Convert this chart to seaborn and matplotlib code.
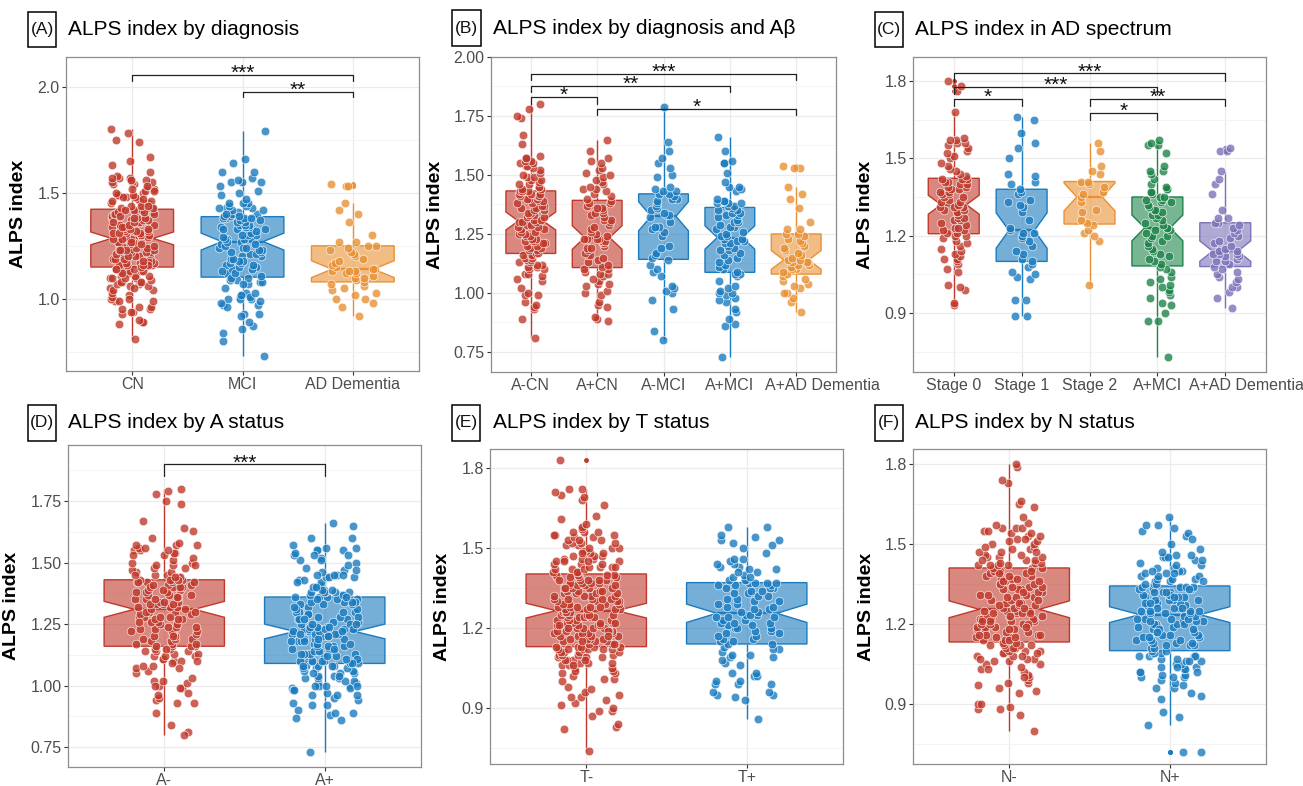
import numpy as np
import pandas as pd
import matplotlib
matplotlib.use("Agg")
import matplotlib.pyplot as plt
from matplotlib.patches import Rectangle
import matplotlib.colors as mcolors
import matplotlib.transforms as mtransforms
import seaborn as sns

# ---------------- data ----------------
a_neg_cn = [0.81, 0.89, 0.93, 0.94, 0.95, 0.96, 0.99, 0.99, 1.00, 1.02, 1.05, 1.06, 1.07, 1.08, 1.08,
            1.10, 1.10, 1.11, 1.11, 1.12, 1.12, 1.13, 1.13, 1.14, 1.14, 1.15, 1.15, 1.16, 1.16, 1.16,
            1.17, 1.17, 1.18, 1.18, 1.19, 1.19, 1.20, 1.20, 1.21, 1.21, 1.22, 1.22, 1.22, 1.23, 1.23,
            1.24, 1.24, 1.25, 1.25, 1.26, 1.26, 1.27, 1.27, 1.28, 1.28, 1.29, 1.29, 1.30, 1.30, 1.30,
            1.31, 1.31, 1.32, 1.32, 1.33, 1.33, 1.34, 1.34, 1.35, 1.35, 1.36, 1.36, 1.37, 1.37, 1.38,
            1.38, 1.39, 1.39, 1.40, 1.40, 1.40, 1.41, 1.41, 1.41, 1.42, 1.42, 1.42, 1.43, 1.43, 1.43,
            1.44, 1.44, 1.45, 1.45, 1.46, 1.46, 1.47, 1.48, 1.48, 1.49, 1.49, 1.50, 1.51, 1.52, 1.53,
            1.54, 1.54, 1.55, 1.55, 1.56, 1.56, 1.57, 1.57, 1.58, 1.63, 1.67, 1.74, 1.75, 1.78, 1.80]
a_pos_cn = [0.88, 0.89, 0.90, 0.94, 0.95, 0.96, 0.99, 1.00, 1.01, 1.03, 1.04, 1.04, 1.05, 1.06, 1.07,
            1.08, 1.08, 1.09, 1.10, 1.10,
            1.11, 1.12, 1.13, 1.14, 1.15, 1.16, 1.16, 1.17, 1.18, 1.19, 1.19, 1.20, 1.21, 1.21, 1.22,
            1.22, 1.23, 1.23, 1.23, 1.23,
            1.24, 1.25, 1.26, 1.27, 1.28, 1.29, 1.30, 1.31, 1.31, 1.32, 1.33, 1.34, 1.34, 1.35, 1.36,
            1.36, 1.37, 1.38, 1.38, 1.39,
            1.40, 1.41, 1.42, 1.43, 1.44, 1.44, 1.45, 1.46, 1.47, 1.48, 1.49, 1.50, 1.51, 1.52, 1.53,
            1.55, 1.56, 1.57, 1.60, 1.65]
a_neg_mci = [0.80, 0.84, 0.93, 0.97, 1.00, 1.01, 1.02, 1.03, 1.07, 1.09, 1.10, 1.12,
             1.14, 1.15, 1.16, 1.17, 1.19, 1.20, 1.24, 1.26, 1.27, 1.28, 1.28, 1.30, 1.32,
             1.33, 1.33, 1.34, 1.35, 1.36, 1.37, 1.38, 1.39, 1.40, 1.40, 1.41, 1.42, 1.42,
             1.43, 1.43, 1.44, 1.45, 1.49, 1.50, 1.53, 1.55, 1.57, 1.60, 1.64, 1.79]
a_pos_mci = [0.73, 0.86, 0.87, 0.89, 0.92, 0.93, 0.96, 0.97, 0.98, 0.99, 1.00, 1.00, 1.01, 1.02, 1.03,
             1.05, 1.07, 1.08, 1.08,
             1.09, 1.10, 1.11, 1.12, 1.13, 1.14, 1.15, 1.16, 1.17, 1.18, 1.18, 1.19, 1.20, 1.21, 1.21,
             1.22, 1.22, 1.23, 1.23,
             1.24, 1.24, 1.25, 1.26, 1.27, 1.28, 1.28, 1.29, 1.30, 1.30, 1.31, 1.32, 1.33, 1.33, 1.34,
             1.34, 1.35, 1.35, 1.36,
             1.37, 1.37, 1.38, 1.38, 1.38, 1.39, 1.39, 1.40, 1.43, 1.44, 1.45, 1.45, 1.47, 1.51, 1.55,
             1.55, 1.56, 1.60, 1.66]
a_pos_ad = [0.92, 0.96, 0.98, 1.00, 1.00, 1.02, 1.03, 1.04, 1.05, 1.06, 1.07,
            1.08, 1.09, 1.10, 1.10, 1.11, 1.12, 1.12, 1.13, 1.13, 1.13, 1.14,
            1.14, 1.15, 1.16, 1.17, 1.18, 1.19, 1.20, 1.21, 1.22, 1.23, 1.24,
            1.25, 1.25, 1.27, 1.27, 1.30, 1.36, 1.40, 1.42, 1.45, 1.53, 1.53, 1.54]

stage0 = [0.93, 0.94, 0.99, 1.00, 1.01, 1.06, 1.07, 1.09, 1.10, 1.11, 1.11, 1.12, 1.13, 1.14, 1.15,
          1.16, 1.17, 1.18, 1.19, 1.20, 1.20,
          1.21, 1.21, 1.22, 1.22, 1.23, 1.23, 1.24, 1.25, 1.26, 1.26, 1.27, 1.27, 1.28, 1.29, 1.29,
          1.30, 1.30, 1.31, 1.31, 1.31, 1.32,
          1.32, 1.33, 1.33, 1.34, 1.35, 1.35, 1.36, 1.36, 1.37, 1.37, 1.38, 1.38, 1.39, 1.39, 1.40,
          1.40, 1.41, 1.41, 1.42, 1.42, 1.42,
          1.43, 1.44, 1.45, 1.46, 1.47, 1.48, 1.50, 1.51, 1.52, 1.53, 1.54, 1.55, 1.56, 1.56, 1.57,
          1.57, 1.58, 1.68, 1.76, 1.78, 1.80]
stage1 = [0.89, 0.89, 0.95, 0.95, 1.03, 1.04, 1.05, 1.06, 1.08, 1.09,
          1.10, 1.11, 1.13, 1.14, 1.16, 1.18, 1.19, 1.20, 1.21, 1.21,
          1.22, 1.23, 1.26, 1.29, 1.31, 1.32, 1.33, 1.34, 1.36, 1.37,
          1.38, 1.40, 1.41, 1.43, 1.44, 1.50, 1.54, 1.56, 1.60, 1.65, 1.66]
stage2 = [1.01, 1.18, 1.20, 1.21, 1.22, 1.24, 1.25, 1.26, 1.29, 1.30, 1.33, 1.35,
          1.36, 1.37, 1.39, 1.40, 1.41, 1.41, 1.44, 1.45, 1.47, 1.53, 1.56]
spectrum_a_pos_mci = [0.73, 0.87, 0.87, 0.90, 0.93, 0.94, 0.96, 0.97, 0.98, 0.99, 1.00, 1.01, 1.02,
                      1.03, 1.04, 1.06, 1.07,
                      1.08, 1.09, 1.10, 1.11, 1.12, 1.13, 1.14, 1.15, 1.16, 1.17, 1.18, 1.19, 1.20,
                      1.20, 1.21, 1.22, 1.22, 1.23,
                      1.23, 1.24, 1.25, 1.26, 1.27, 1.28, 1.28, 1.29, 1.30, 1.30, 1.31, 1.32, 1.33,
                      1.33, 1.34, 1.34, 1.35, 1.35,
                      1.36, 1.37, 1.37, 1.38, 1.38, 1.39, 1.40, 1.42, 1.44, 1.45, 1.45, 1.47, 1.52,
                      1.55, 1.55, 1.56, 1.57]

t_neg = [0.74, 0.82, 0.83, 0.84, 0.87, 0.89, 0.89, 0.90, 0.91, 0.92, 0.93, 0.94, 0.94, 0.95, 0.96,
         0.97, 0.98, 1.00, 1.01, 1.01, 1.03, 1.03, 1.04, 1.05, 1.05, 1.06, 1.06, 1.07, 1.07, 1.07,
         1.08, 1.08, 1.08, 1.09, 1.09, 1.09, 1.09, 1.10, 1.10, 1.10, 1.10, 1.11, 1.11, 1.11, 1.11,
         1.11, 1.12, 1.12, 1.12, 1.12, 1.12, 1.12, 1.13, 1.13, 1.13, 1.13, 1.02, 1.04, 1.06, 1.08,
         1.13, 1.14, 1.14, 1.14, 1.15, 1.15, 1.15, 1.16, 1.16, 1.16, 1.17, 1.17, 1.17, 1.17, 1.18,
         1.18, 1.18, 1.18, 1.19, 1.19, 1.19, 1.19, 1.20, 1.20, 1.20, 1.20, 1.21, 1.21, 1.21, 1.21,
         1.22, 1.22, 1.22, 1.22, 1.23, 1.23, 1.23, 1.23, 1.24, 1.24, 1.24, 1.24, 1.25, 1.25, 1.25,
         1.25, 1.26, 1.26, 1.26, 1.26, 1.14, 1.15, 1.16, 1.19, 1.21, 1.24, 1.17, 1.20, 1.22, 1.25,
         1.27, 1.27, 1.27, 1.27, 1.28, 1.28, 1.28, 1.28, 1.29, 1.29, 1.29, 1.29, 1.30, 1.30, 1.30,
         1.30, 1.31, 1.31, 1.31, 1.31, 1.32, 1.32, 1.32, 1.32, 1.33, 1.33, 1.33, 1.33, 1.34, 1.34,
         1.34, 1.34, 1.35, 1.35, 1.35, 1.35, 1.36, 1.36, 1.36, 1.36, 1.37, 1.37, 1.37, 1.37, 1.38,
         1.38, 1.38, 1.38, 1.39, 1.39, 1.39, 1.39, 1.40, 1.40, 1.40, 1.40, 1.28, 1.31, 1.35, 1.38,
         1.41, 1.41, 1.42, 1.42, 1.43, 1.43, 1.44, 1.44, 1.45, 1.45, 1.46, 1.46, 1.47, 1.47, 1.48,
         1.48, 1.49, 1.49, 1.50, 1.50, 1.51, 1.51, 1.52, 1.52, 1.53, 1.53, 1.54, 1.54, 1.55, 1.55,
         1.56, 1.56, 1.57, 1.58, 1.59, 1.61, 1.62, 1.66, 1.68, 1.69, 1.70, 1.71, 1.72, 1.72, 1.83,
         1.41, 1.42, 1.43, 1.44, 1.45, 1.46, 1.47, 1.48, 1.50, 1.52, 1.53, 1.55, 1.56, 1.43, 1.45]
t_pos = [0.86, 0.93, 0.94, 0.95, 0.95, 0.96, 0.96, 0.99, 0.99, 0.99, 1.00, 1.00, 1.02, 1.02, 1.03,
         1.03, 1.06, 1.07, 1.08, 1.09, 1.09, 1.10, 1.10, 1.11, 1.12, 1.12, 1.13,
         1.14, 1.14, 1.15, 1.15, 1.16, 1.16, 1.17, 1.17, 1.18, 1.18, 1.19, 1.19, 1.20, 1.20, 1.20,
         1.21, 1.21, 1.22, 1.22, 1.22, 1.23, 1.23, 1.24, 1.24, 1.24, 1.25, 1.25, 1.25,
         1.26, 1.26, 1.27, 1.27, 1.28, 1.28, 1.29, 1.29, 1.30, 1.30, 1.31, 1.31, 1.32, 1.32, 1.33,
         1.33, 1.34, 1.34, 1.35, 1.35, 1.35, 1.36, 1.36, 1.36, 1.37, 1.37, 1.37, 1.37,
         1.38, 1.38, 1.38, 1.39, 1.40, 1.41, 1.42, 1.42, 1.43, 1.43, 1.44, 1.45, 1.46, 1.46, 1.48,
         1.50, 1.51, 1.52, 1.53, 1.53, 1.54, 1.55, 1.58, 1.58, 1.39, 1.41, 1.44]

n_neg = [0.80, 0.86, 0.88, 0.88, 0.89, 0.90, 0.90, 0.94, 0.95, 0.96, 0.97, 0.98, 0.98, 0.99, 1.00,
         1.01, 1.02, 1.03, 1.04, 1.05, 1.06, 1.06, 1.07, 1.07, 1.08, 1.08, 1.09, 1.09, 1.10, 1.10,
         1.10, 1.11, 1.11, 1.11, 1.12, 1.12, 1.12, 1.12, 1.13, 1.13, 1.05, 1.03, 1.07, 1.09, 1.11,
         1.00, 1.08,
         1.13, 1.14, 1.14, 1.15, 1.15, 1.15, 1.16, 1.16, 1.17, 1.17, 1.18, 1.18, 1.19, 1.19, 1.19,
         1.20, 1.20, 1.20, 1.21, 1.21, 1.22, 1.22, 1.22, 1.23, 1.23, 1.23, 1.24, 1.24, 1.24, 1.25,
         1.25, 1.25, 1.14, 1.16, 1.17, 1.18, 1.21, 1.22, 1.24, 1.25, 1.20, 1.19, 1.15, 1.23, 1.18,
         1.21, 1.16, 1.24,
         1.26, 1.26, 1.27, 1.27, 1.28, 1.28, 1.29, 1.29, 1.30, 1.30, 1.31, 1.31, 1.32, 1.32, 1.33,
         1.33, 1.34, 1.34, 1.35, 1.35, 1.36, 1.36, 1.37, 1.37, 1.38, 1.38, 1.39, 1.39, 1.40, 1.40,
         1.41, 1.41, 1.27, 1.29, 1.31, 1.33, 1.35, 1.37, 1.39, 1.41, 1.28, 1.30, 1.32, 1.34, 1.36,
         1.38, 1.40, 1.26,
         1.42, 1.42, 1.42, 1.43, 1.43, 1.44, 1.44, 1.45, 1.45, 1.46, 1.47, 1.47, 1.48, 1.48, 1.49,
         1.50, 1.50, 1.51, 1.52, 1.53, 1.53, 1.54, 1.55, 1.55, 1.56, 1.56, 1.56, 1.57, 1.58, 1.60,
         1.64, 1.65, 1.66, 1.73, 1.74, 1.79, 1.80, 1.42, 1.43, 1.44, 1.46, 1.49, 1.51, 1.45, 1.47,
         1.52, 1.54]
n_pos = [0.72, 0.72, 0.82, 0.85, 0.87, 0.92, 0.93, 0.94, 0.96, 0.96, 0.97, 0.98, 0.99, 1.00, 1.00,
         1.01, 1.01, 1.02, 1.02, 1.03, 1.03, 1.04, 1.04, 1.05, 1.05, 1.06, 1.06, 1.07, 1.07, 1.08,
         1.08, 1.08, 1.09, 1.09, 1.09, 1.10, 1.02, 1.04, 1.06, 1.00, 1.08,
         1.10, 1.11, 1.11, 1.12, 1.12, 1.13, 1.13, 1.14, 1.14, 1.15, 1.15, 1.16, 1.16, 1.17, 1.17,
         1.18, 1.18, 1.19, 1.19, 1.20, 1.20, 1.20, 1.21, 1.21, 1.21, 1.22, 1.22, 1.22, 1.23, 1.23,
         1.12, 1.14, 1.16, 1.18, 1.20, 1.22, 1.13, 1.15, 1.17, 1.19, 1.21,
         1.24, 1.24, 1.25, 1.25, 1.26, 1.26, 1.27, 1.27, 1.28, 1.28, 1.29, 1.29, 1.30, 1.30, 1.31,
         1.31, 1.32, 1.32, 1.33, 1.33, 1.34, 1.34, 1.24, 1.25, 1.26, 1.27, 1.28, 1.29, 1.30, 1.31,
         1.32, 1.33, 1.34, 1.26, 1.28, 1.30, 1.32, 1.34, 1.25, 1.29, 1.33,
         1.35, 1.35, 1.36, 1.36, 1.37, 1.37, 1.38, 1.38, 1.39, 1.39, 1.40, 1.40, 1.41, 1.41, 1.42,
         1.43, 1.44, 1.45, 1.45, 1.45, 1.46, 1.47, 1.48, 1.50, 1.53, 1.54, 1.55, 1.56, 1.57, 1.57,
         1.60, 1.35, 1.36, 1.37, 1.38, 1.39, 1.40, 1.42, 1.44, 1.46, 1.52]

# categories / labels
cats_a = ["CN", "MCI", "AD Dementia"]
cats_b = ["A-CN", "A+CN", "A-MCI", "A+MCI", "A+AD Dementia"]
cats_c = ["Stage 0", "Stage 1", "Stage 2", "A+MCI", "A+AD Dementia"]
cats_d = ["A-", "A+"]
cats_e = ["T-", "T+"]
cats_f = ["N-", "N+"]

titles = ["ALPS index by diagnosis", "ALPS index by diagnosis and A\u03b2", "ALPS index in AD spectrum",
          "ALPS index by A status", "ALPS index by T status", "ALPS index by N status"]
tags = ["(A)", "(B)", "(C)", "(D)", "(E)", "(F)"]

# ---------------- styling ----------------
RED, BLUE, ORANGE, GREEN, PURPLE = "#C0392B", "#1A7BBF", "#E99134", "#1E8449", "#7B72B8"

W, H, DPI = 1303, 786, 100
sns.set_theme(style="white")
plt.rcParams['font.family'] = ['Liberation Sans', 'DejaVu Sans']

fig = plt.figure(figsize=(W / DPI, H / DPI), dpi=DPI)

TICK_LEN, TICK_PAD = 3, 1.5


def add_ax(l, t, r, b):
    return fig.add_axes([l / W, 1 - b / H, (r - l) / W, (b - t) / H])


def panel(ax, cats, values, colors, ylim, yticks, ylabels, yminor, brackets, drop, shift_last=0):
    df = pd.DataFrame({"group": np.repeat(cats, [len(v) for v in values]),
                       "val": np.concatenate([np.asarray(v, float) for v in values])})
    for g, c in zip(cats, colors):
        sub = df[df["group"] == g]
        n_before = len(ax.patches)
        sns.boxplot(data=sub, x="group", y="val", order=cats, color=c, linecolor=c,
                    saturation=1, width=0.75, linewidth=1.0, notch=True, showcaps=False,
                    fliersize=2.5, whis=1.5,
                    flierprops=dict(marker="o", markerfacecolor=c, markeredgecolor=c),
                    medianprops=dict(linewidth=1.6, color=c), ax=ax)
        for p in ax.patches[n_before:]:
            p.set_facecolor(mcolors.to_rgba(c, 0.6))
            p.set_edgecolor(c)
        sns.stripplot(data=sub, x="group", y="val", order=cats, color=c, jitter=0.21, size=6.2,
                      alpha=0.8, edgecolor="white", linewidth=0.5, ax=ax, zorder=3)
    ax.set_xlim(-0.6, len(cats) - 0.4)
    ax.set_ylim(*ylim)
    ax.set_yticks(yticks)
    ax.set_yticklabels(ylabels)
    ax.set_yticks(yminor, minor=True)
    ax.set_axisbelow(True)
    ax.grid(True, which="major", color="#EBEBEB", linewidth=0.9)
    ax.grid(True, which="minor", axis="y", color="#F3F3F3", linewidth=0.6)
    for s in ax.spines.values():
        s.set_visible(True)
        s.set_color("#8C8C8C")
        s.set_linewidth(0.9)
    ax.tick_params(axis="both", which="major", length=TICK_LEN, width=0.8, color="#333333",
                   labelcolor="#4D4D4D", labelsize=11.5, pad=TICK_PAD, left=True, bottom=True)
    ax.tick_params(axis="y", which="minor", length=0)
    ax.set_xlabel("")
    ax.set_ylabel("ALPS index", fontsize=14, fontweight="bold", color="black")
    if shift_last:
        labels = list(cats[:-1]) + [""]
        ax.set_xticks(range(len(cats)))
        ax.set_xticklabels(labels)
        trans = mtransforms.blended_transform_factory(ax.transData, ax.transAxes)
        ax.annotate(cats[-1], xy=(len(cats) - 1, 0), xycoords=trans,
                    xytext=(shift_last, -(TICK_LEN + TICK_PAD)), textcoords="offset points",
                    ha="center", va="top", fontsize=11.5, color="#4D4D4D", annotation_clip=False)
    for i, j, y, lab in brackets:
        ax.plot([i, i, j, j], [y - drop, y, y, y - drop], color="#222222", lw=0.9,
                clip_on=False, zorder=4)
        ax.annotate(lab, xy=((i + j) / 2, y), xytext=(0, -3), textcoords="offset points",
                    ha="center", va="baseline", fontsize=15, color="#111111")


np.random.seed(3)

# (A)
axA = add_ax(66, 57, 419, 371)
panel(axA, cats_a, [a_neg_cn + a_pos_cn, a_neg_mci + a_pos_mci, a_pos_ad], [RED, BLUE, ORANGE],
      (0.66, 2.14), [1.0, 1.5, 2.0], ["1.0", "1.5", "2.0"], [0.75, 1.25, 1.75],
      [(0, 2, 2.055, "***"), (1, 2, 1.977, "**")], 0.027)

# (B)
axB = add_ax(491, 57, 836, 372)
panel(axB, cats_b, [a_neg_cn, a_pos_cn, a_neg_mci, a_pos_mci, a_pos_ad], [RED, RED, BLUE, BLUE, ORANGE],
      (0.665, 2.0), [0.75, 1.0, 1.25, 1.5, 1.75, 2.0], ["0.75", "1.00", "1.25", "1.50", "1.75", "2.00"],
      [0.875, 1.125, 1.375, 1.625, 1.875],
      [(0, 4, 1.929, "***"), (0, 3, 1.879, "**"), (0, 1, 1.830, "*"), (1, 4, 1.781, "*")], 0.028,
      shift_last=19)

# (C)
axC = add_ax(913, 57, 1266, 372)
panel(axC, cats_c, [stage0, stage1, stage2, spectrum_a_pos_mci, a_pos_ad], [RED, BLUE, ORANGE, GREEN, PURPLE],
      (0.671, 1.893), [0.9, 1.2, 1.5, 1.8], ["0.9", "1.2", "1.5", "1.8"], [0.75, 1.05, 1.35, 1.65],
      [(0, 4, 1.830, "***"), (0, 3, 1.778, "***"), (0, 1, 1.732, "*"), (2, 4, 1.732, "**"),
       (2, 3, 1.677, "*")], 0.03, shift_last=15)

# (D)
axD = add_ax(68, 445, 421, 767)
panel(axD, cats_d, [a_neg_cn + a_neg_mci, a_pos_cn + a_pos_mci + a_pos_ad], [RED, BLUE],
      (0.669, 1.978), [0.75, 1.0, 1.25, 1.5, 1.75], ["0.75", "1.00", "1.25", "1.50", "1.75"],
      [0.875, 1.125, 1.375, 1.625, 1.875],
      [(0, 1, 1.90, "***")], 0.047)

# (E)
axE = add_ax(490, 449, 843, 764)
panel(axE, cats_e, [t_neg, t_pos], [RED, BLUE],
      (0.69, 1.871), [0.9, 1.2, 1.5, 1.8], ["0.9", "1.2", "1.5", "1.8"], [0.75, 1.05, 1.35, 1.65],
      [], 0.03)

# (F)
axF = add_ax(913, 449, 1266, 764)
panel(axF, cats_f, [n_neg, n_pos], [RED, BLUE],
      (0.675, 1.856), [0.9, 1.2, 1.5, 1.8], ["0.9", "1.2", "1.5", "1.8"], [0.75, 1.05, 1.35, 1.65],
      [], 0.03)

# y-label positions (pixel x of label centre)
for ax, lx, (l, r) in [(axA, 27, (66, 419)), (axB, 444, (491, 836)), (axC, 874, (913, 1266)),
                       (axD, 20, (68, 421)), (axE, 451, (490, 843)), (axF, 875, (913, 1266))]:
    ax.yaxis.set_label_coords((lx - l) / (r - l), 0.5)

# titles with boxed tags
for tag, title, (bl, bt, br, bb), tx in [
        (tags[0], titles[0], (28, 12, 56, 47), 68),
        (tags[1], titles[1], (452, 10, 481, 46), 493),
        (tags[2], titles[2], (875, 12, 903, 47), 915),
        (tags[3], titles[3], (28, 405, 56, 441), 68),
        (tags[4], titles[4], (452, 405, 480, 441), 493),
        (tags[5], titles[5], (875, 405, 903, 441), 915)]:
    fig.patches.append(Rectangle((bl / W, 1 - bb / H), (br - bl) / W, (bb - bt) / H,
                                 transform=fig.transFigure, fill=False, edgecolor="black", lw=1.1))
    cy = 1 - (bt + bb) / 2 / H
    fig.text((bl + br) / 2 / W, cy, tag, ha="center", va="center", fontsize=12.5, color="#111111")
    fig.text(tx / W, cy, title, ha="left", va="center", fontsize=15, color="black")

fig.savefig("out.png", dpi=DPI, facecolor="white")
